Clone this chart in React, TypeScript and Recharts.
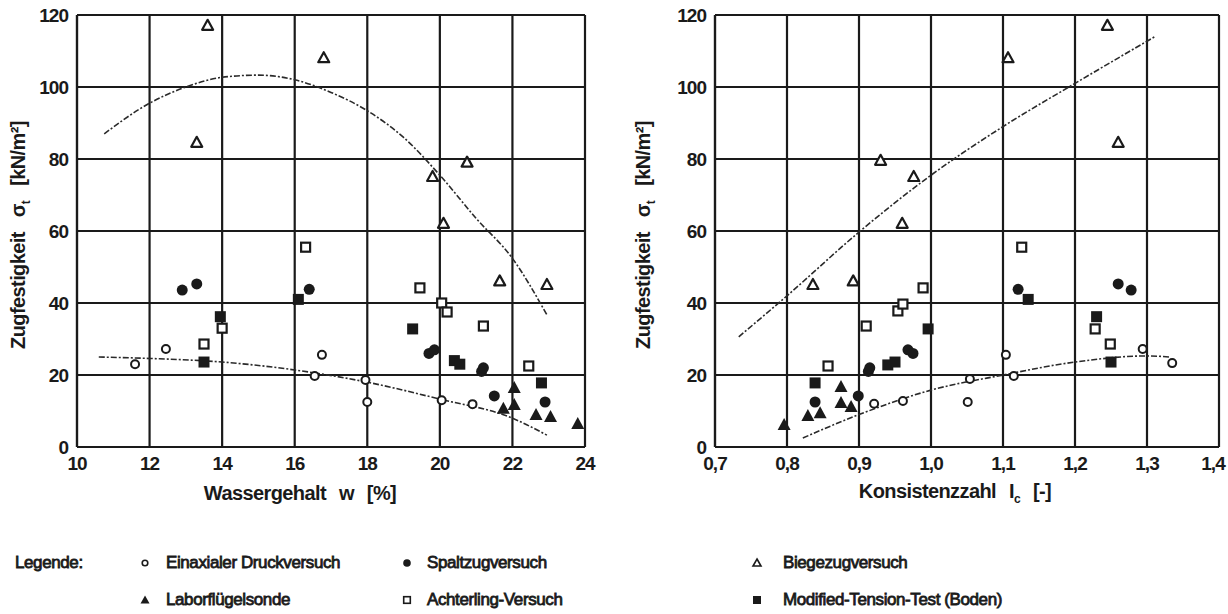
import { ComposedChart, Scatter, Line, XAxis, YAxis, CartesianGrid } from 'recharts';

// --- left chart: Wassergehalt w [%]
const wEinaxial = [
  { x: 11.6, y: 23 }, { x: 12.45, y: 27.2 }, { x: 16.55, y: 19.7 }, { x: 16.75, y: 25.6 },
  { x: 17.95, y: 18.6 }, { x: 18.0, y: 12.5 }, { x: 20.05, y: 13 }, { x: 20.9, y: 11.9 },
];
const wSpaltzug = [
  { x: 12.9, y: 43.6 }, { x: 13.3, y: 45.3 }, { x: 16.4, y: 43.8 }, { x: 19.7, y: 26 },
  { x: 19.85, y: 27 }, { x: 21.15, y: 21 }, { x: 21.2, y: 22 }, { x: 21.5, y: 14.2 }, { x: 22.9, y: 12.5 },
];
const wBiegezug = [
  { x: 13.6, y: 117 }, { x: 16.8, y: 108 }, { x: 13.3, y: 84.5 }, { x: 19.8, y: 75 },
  { x: 20.75, y: 79 }, { x: 20.1, y: 62 }, { x: 21.65, y: 46 }, { x: 22.95, y: 45 },
];
const wLabor = [
  { x: 21.75, y: 10.6 }, { x: 22.05, y: 11.7 }, { x: 22.05, y: 16.4 },
  { x: 22.65, y: 8.9 }, { x: 23.05, y: 8.3 }, { x: 23.8, y: 6.4 },
];
const wAchterling = [
  { x: 13.5, y: 28.6 }, { x: 14.0, y: 33 }, { x: 16.3, y: 55.5 }, { x: 19.45, y: 44.2 },
  { x: 20.05, y: 40 }, { x: 20.2, y: 37.5 }, { x: 21.2, y: 33.6 }, { x: 22.45, y: 22.5 },
];
const wModTension = [
  { x: 13.5, y: 23.6 }, { x: 13.95, y: 36.2 }, { x: 16.1, y: 41 }, { x: 19.25, y: 32.8 },
  { x: 20.4, y: 24 }, { x: 20.55, y: 23 }, { x: 22.8, y: 17.8 },
];
const wTrendBiege = [
  { x: 10.75, y: 87 }, { x: 12, y: 95.5 }, { x: 13, y: 100 }, { x: 14, y: 102.7 }, { x: 15, y: 103.3 },
  { x: 16, y: 102 }, { x: 17, y: 98.5 }, { x: 18, y: 93.4 }, { x: 19, y: 86 }, { x: 20, y: 75.5 },
  { x: 21, y: 63.5 }, { x: 22, y: 52.4 }, { x: 22.95, y: 36.7 },
];
const wTrendEinax = [
  { x: 10.6, y: 25 }, { x: 12, y: 24.6 }, { x: 14, y: 23.6 }, { x: 16, y: 21.4 },
  { x: 18, y: 18 }, { x: 20, y: 13.3 }, { x: 22, y: 8 }, { x: 22.95, y: 3.3 },
];
const wTicks = [10, 12, 14, 16, 18, 20, 22, 24];

// --- right chart: Konsistenzzahl Ic [-]
const iEinaxial = [
  { x: 0.921, y: 12 }, { x: 0.961, y: 12.8 }, { x: 1.051, y: 12.5 }, { x: 1.054, y: 18.9 },
  { x: 1.104, y: 25.6 }, { x: 1.115, y: 19.7 }, { x: 1.294, y: 27.2 }, { x: 1.335, y: 23.3 },
];
const iSpaltzug = [
  { x: 0.839, y: 12.5 }, { x: 0.899, y: 14.2 }, { x: 0.913, y: 21 }, { x: 0.915, y: 22 },
  { x: 0.968, y: 27 }, { x: 0.975, y: 26 }, { x: 1.121, y: 43.8 }, { x: 1.26, y: 45.3 }, { x: 1.278, y: 43.6 },
];
const iBiegezug = [
  { x: 0.836, y: 45 }, { x: 0.892, y: 46 }, { x: 0.93, y: 79.5 }, { x: 0.96, y: 62 },
  { x: 0.976, y: 75 }, { x: 1.107, y: 108 }, { x: 1.245, y: 117 }, { x: 1.26, y: 84.5 },
];
const iLabor = [
  { x: 0.796, y: 6.1 }, { x: 0.829, y: 8.6 }, { x: 0.846, y: 9.4 },
  { x: 0.875, y: 12.2 }, { x: 0.875, y: 16.7 }, { x: 0.889, y: 11.1 },
];
const iAchterling = [
  { x: 0.857, y: 22.5 }, { x: 0.91, y: 33.6 }, { x: 0.954, y: 37.8 }, { x: 0.961, y: 39.7 },
  { x: 0.989, y: 44.2 }, { x: 1.126, y: 55.5 }, { x: 1.228, y: 32.8 }, { x: 1.249, y: 28.6 },
];
const iModTension = [
  { x: 0.839, y: 17.8 }, { x: 0.94, y: 22.8 }, { x: 0.95, y: 23.6 }, { x: 0.996, y: 32.8 },
  { x: 1.135, y: 41 }, { x: 1.23, y: 36.2 }, { x: 1.25, y: 23.6 },
];
const iTrendBiege = [
  { x: 0.733, y: 30.6 }, { x: 0.8, y: 42 }, { x: 0.9, y: 59.7 }, { x: 1.0, y: 75.5 },
  { x: 1.1, y: 89 }, { x: 1.2, y: 101 }, { x: 1.311, y: 114 },
];
const iTrendEinax = [
  { x: 0.822, y: 2.5 }, { x: 0.9, y: 9 }, { x: 1.0, y: 15.8 }, { x: 1.1, y: 20 },
  { x: 1.2, y: 23.6 }, { x: 1.3, y: 25.3 }, { x: 1.332, y: 25 },
];
const iTicks = [0.7, 0.8, 0.9, 1.0, 1.1, 1.2, 1.3, 1.4];

const yTicks = [0, 20, 40, 60, 80, 100, 120];

const FONT = '"Liberation Sans", Arial, sans-serif';
const INK = '#1a1a1a';

// marker shapes
const OpenCircle = ({ cx, cy }: any) => <circle cx={cx} cy={cy} r={4} fill="#fff" stroke={INK} strokeWidth={2} />;
const FullCircle = ({ cx, cy }: any) => <circle cx={cx} cy={cy} r={5.5} fill={INK} />;
const OpenTri = ({ cx, cy }: any) => (
  <polygon points={`${cx},${cy - 6} ${cx + 5.5},${cy + 4} ${cx - 5.5},${cy + 4}`} fill="#fff" stroke={INK} strokeWidth={2.2} strokeLinejoin="round" />
);
const FullTri = ({ cx, cy }: any) => (
  <polygon points={`${cx},${cy - 7} ${cx + 6.5},${cy + 5} ${cx - 6.5},${cy + 5}`} fill={INK} />
);
const OpenSq = ({ cx, cy }: any) => <rect x={cx - 4.5} y={cy - 4.5} width={9} height={9} fill="#fff" stroke={INK} strokeWidth={2.2} />;
const FullSq = ({ cx, cy }: any) => <rect x={cx - 5.5} y={cy - 5.5} width={11} height={11} fill={INK} />;

const tickStyle = { fill: INK, fontSize: 19, fontWeight: 700, fontFamily: FONT, letterSpacing: -1 };

// x tick; the last label of the right panel is pulled in so it stays on the page
const XTick = ({ x, y, payload, fmt, last }: any) => (
  <text x={payload.value === last ? x - 6 : x} y={y} dy="0.71em" textAnchor="middle" {...tickStyle}>
    {fmt(payload.value)}
  </text>
);

type Pt = { x: number; y: number };

function Panel(props: {
  xDomain: [number, number]; xTicks: number[]; fmt: (v: number) => string; pullLast?: boolean;
  einax: Pt[]; spalt: Pt[]; biege: Pt[]; labor: Pt[]; achter: Pt[]; mtt: Pt[];
  trendBiege: Pt[]; trendEinax: Pt[]; width: number; marginLeft: number; marginRight: number;
}) {
  const dash = { stroke: '#2a2a2a', strokeWidth: 1.6, strokeDasharray: '6 2 2 2' };
  const last = props.pullLast ? props.xTicks[props.xTicks.length - 1] : null;
  return (
    <ComposedChart width={props.width} height={480} margin={{ top: 15, right: props.marginRight, bottom: 3, left: props.marginLeft - 60 }}>
      <CartesianGrid stroke={INK} strokeWidth={2.2} horizontalValues={yTicks} verticalValues={props.xTicks} />
      <XAxis type="number" dataKey="x" domain={props.xDomain} ticks={props.xTicks}
        allowDataOverflow height={30} tickSize={0} tickMargin={10} axisLine={{ stroke: INK, strokeWidth: 2.2 }}
        tick={<XTick fmt={props.fmt} last={last} />} interval={0} />
      <YAxis type="number" dataKey="y" domain={[0, 120]} ticks={yTicks} width={60} tickSize={0} tickMargin={9}
        axisLine={{ stroke: INK, strokeWidth: 2.2 }} tick={tickStyle} interval={0} />
      <Line data={props.trendBiege} dataKey="y" type="monotone" dot={false} activeDot={false} {...dash} isAnimationActive={false} />
      <Line data={props.trendEinax} dataKey="y" type="monotone" dot={false} activeDot={false} {...dash} isAnimationActive={false} />
      <Scatter data={props.achter} dataKey="y" shape={OpenSq} isAnimationActive={false} />
      <Scatter data={props.mtt} dataKey="y" shape={FullSq} isAnimationActive={false} />
      <Scatter data={props.spalt} dataKey="y" shape={FullCircle} isAnimationActive={false} />
      <Scatter data={props.labor} dataKey="y" shape={FullTri} isAnimationActive={false} />
      <Scatter data={props.biege} dataKey="y" shape={OpenTri} isAnimationActive={false} />
      <Scatter data={props.einax} dataKey="y" shape={OpenCircle} isAnimationActive={false} />
    </ComposedChart>
  );
}

const labelStyle: React.CSSProperties = {
  position: 'absolute', fontFamily: FONT, fontWeight: 700, fontSize: 20, color: INK, whiteSpace: 'nowrap', letterSpacing: -0.6,
};

function YLabel({ cx }: { cx: number }) {
  return (
    <div style={{ ...labelStyle, left: cx, top: 235, transform: 'translate(-50%, -50%) rotate(-90deg)', wordSpacing: 10 }}>
      Zugfestigkeit σ<sub style={{ fontSize: 12 }}>t</sub> [kN/m²]
    </div>
  );
}

const legendIcon = (kind: string) => {
  const s = 14;
  const c = s / 2;
  let el;
  if (kind === 'oc') el = <circle cx={c} cy={c} r={2.8} fill="#fff" stroke={INK} strokeWidth={1.6} />;
  else if (kind === 'fc') el = <circle cx={c} cy={c} r={3.8} fill={INK} />;
  else if (kind === 'ot') el = <polygon points={`${c},${c - 4} ${c + 4},${c + 3} ${c - 4},${c + 3}`} fill="#fff" stroke={INK} strokeWidth={1.6} />;
  else if (kind === 'ft') el = <polygon points={`${c},${c - 4.5} ${c + 4.5},${c + 3.5} ${c - 4.5},${c + 3.5}`} fill={INK} />;
  else if (kind === 'os') el = <rect x={c - 3.3} y={c - 3.3} width={6.6} height={6.6} fill="#fff" stroke={INK} strokeWidth={1.6} />;
  else el = <rect x={c - 4} y={c - 4} width={8} height={8} fill={INK} />;
  return <svg width={s} height={s} style={{ display: 'block' }}>{el}</svg>;
};

const legendRows = [
  [{ k: 'oc', t: 'Einaxialer Druckversuch' }, { k: 'fc', t: 'Spaltzugversuch' }, { k: 'ot', t: 'Biegezugversuch' }],
  [{ k: 'ft', t: 'Laborflügelsonde' }, { k: 'os', t: 'Achterling-Versuch' }, { k: 'fs', t: 'Modified-Tension-Test (Boden)' }],
];
const legendCols = [145, 407, 757];
const legendTextX = [166, 427, 783];
const legendRowY = [563, 600];

export default function App() {
  const legendText: React.CSSProperties = { ...labelStyle, fontSize: 17, fontWeight: 400, letterSpacing: -0.4, WebkitTextStroke: '0.8px #1a1a1a' };
  return (
    <div style={{ position: 'absolute', left: 0, top: 0, width: 1228, height: 614, background: '#fff', overflow: 'hidden' }}>
      <div style={{ position: 'absolute', left: 0, top: 0 }}>
        <Panel width={600} marginLeft={77} marginRight={15} xDomain={[10, 24]} xTicks={wTicks} fmt={(v) => String(v)}
          einax={wEinaxial} spalt={wSpaltzug} biege={wBiegezug} labor={wLabor} achter={wAchterling} mtt={wModTension}
          trendBiege={wTrendBiege} trendEinax={wTrendEinax} />
      </div>
      <div style={{ position: 'absolute', left: 620, top: 0 }}>
        <Panel width={608} marginLeft={95} marginRight={9} xDomain={[0.7, 1.4]} xTicks={iTicks} pullLast
          fmt={(v) => v.toFixed(1).replace('.', ',')}
          einax={iEinaxial} spalt={iSpaltzug} biege={iBiegezug} labor={iLabor} achter={iAchterling} mtt={iModTension}
          trendBiege={iTrendBiege} trendEinax={iTrendEinax} />
      </div>
      <YLabel cx={20} />
      <YLabel cx={645} />
      <div style={{ ...labelStyle, left: 300, top: 493, transform: 'translate(-50%, -50%)', wordSpacing: 8 }}>Wassergehalt w [%]</div>
      <div style={{ ...labelStyle, left: 955, top: 493, transform: 'translate(-50%, -50%)', wordSpacing: 8 }}>
        Konsistenzzahl I<sub style={{ fontSize: 12 }}>c</sub> [-]
      </div>
      <div style={{ ...legendText, left: 15, top: legendRowY[0], transform: 'translateY(-50%)' }}>Legende:</div>
      {legendRows.map((row, ri) =>
        row.map((it, ci) => (
          <div key={`${ri}-${ci}`}>
            <div style={{ position: 'absolute', left: legendCols[ci] - 7, top: legendRowY[ri] - 7 }}>{legendIcon(it.k)}</div>
            <div style={{ ...legendText, left: legendTextX[ci], top: legendRowY[ri], transform: 'translateY(-50%)' }}>{it.t}</div>
          </div>
        ))
      )}
    </div>
  );
}
